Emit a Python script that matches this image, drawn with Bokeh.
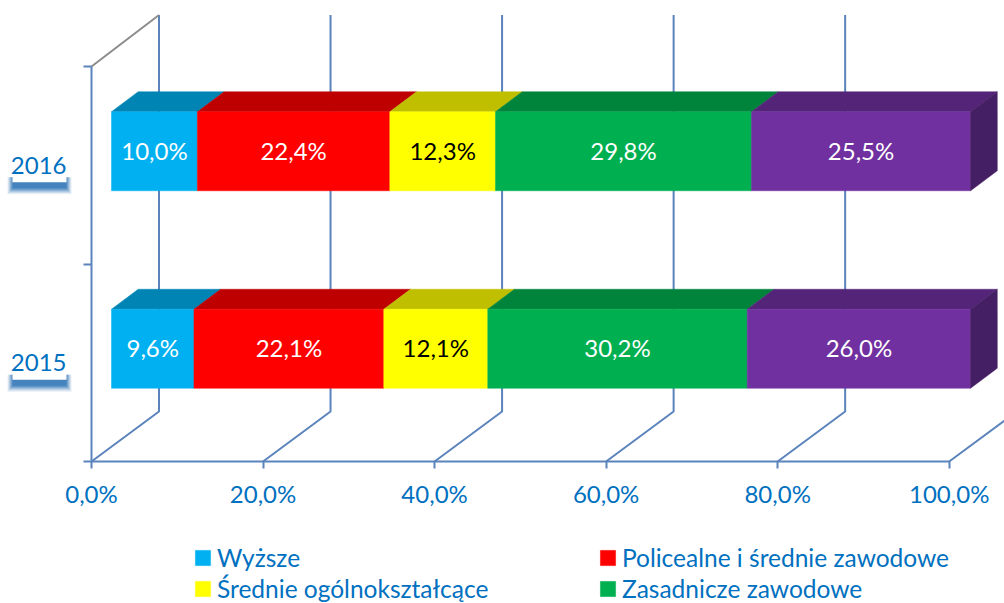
from bokeh.plotting import figure
from bokeh.models import FixedTicker, Legend, LegendItem
from bokeh.core.properties import value
from bokeh.embed import file_html
from bokeh.resources import INLINE

years = ["2015", "2016"]
names = ["Wyższe", "Policealne i średnie zawodowe", "Średnie ogólnokształcące", "Zasadnicze zawodowe", "Podstawowe"]
series = [[9.6, 10.0], [22.1, 22.4], [12.1, 12.3], [30.2, 29.8], [26.0, 25.5]]
labels = [["9,6%", "10,0%"], ["22,1%", "22,4%"], ["12,1%", "12,3%"], ["30,2%", "29,8%"], ["26,0%", "25,5%"]]
front_colors = ["#00B0F0", "#FF0000", "#FFFF00", "#00B050", "#7030A0"]
top_colors = ["#0084B4", "#BF0000", "#BFBF00", "#00843C", "#542478"]
text_colors = ["white", "white", "black", "white", "white"]
x_ticks = [0, 20, 40, 60, 80, 100]
x_tick_labels = ["0,0%", "20,0%", "40,0%", "60,0%", "80,0%", "100,0%"]

FONT = "Lato"
AXIS = "#5B83BC"
TEXT = "#0070C0"
W, H = 1004, 603
ORIGIN_X, ORIGIN_Y = 91.0, 461.0      # pixels of the 0 %, bottom corner
SX, SY = 8.577, 197.5                 # pixels per data unit
ux, uy = 1 / SX, 1 / SY


def fx(px):
    return (px - ORIGIN_X) * ux


def fy(py):
    return (ORIGIN_Y - py) * uy


p = figure(width=W, height=H, output_backend="svg", toolbar_location=None,
           x_range=(fx(0), fx(W)), y_range=(fy(H), fy(0)),
           min_border=0, outline_line_color=None, background_fill_color="white")
p.grid.visible = False

# walls: oblique floor lines and back-wall verticals
wall_dx, wall_dy, top_u = 67.5 * ux, 50 * uy, 2.0
xs = [[t, t + wall_dx, t + wall_dx] for t in x_ticks]
ys = [[0, wall_dy, top_u + 51.5 * uy] for t in x_ticks]
p.multi_line(xs, ys, line_color=AXIS, line_width=2)
p.line([0, wall_dx], [top_u, top_u + 51.5 * uy], line_color="#8C8C8C", line_width=2)

# 3-D stacked bars
bar_k = 1.0016
off_x, off_y = 20 * ux, 14 * uy
half = 39.5 * uy
dep_x, dep_y = 26.7 * ux, 20 * uy
slots = [0.5, 1.5]
starts = [0.0, 0.0]
renderers = []
for name, vals, lab, fc, tc, txt in zip(names, series, labels, front_colors, top_colors, text_colors):
    lefts = [off_x + s * bar_k for s in starts]
    rights = [off_x + (s + v) * bar_k for s, v in zip(starts, vals)]
    tops = [u + off_y + half for u in slots]
    bottoms = [u + off_y - half for u in slots]
    p.patches([[l, r, r + dep_x, l + dep_x] for l, r in zip(lefts, rights)],
              [[t, t, t + dep_y, t + dep_y] for t in tops],
              fill_color=tc, line_color=tc, line_width=0.5)
    r = p.quad(left=lefts, right=rights, top=tops, bottom=bottoms, fill_color=fc, line_color=fc, line_width=0.5)
    renderers.append(r)
    p.text([(l + rr) / 2 for l, rr in zip(lefts, rights)], [u + off_y + 1 * uy for u in slots], text=lab,
           text_font=value(FONT), text_font_size="24px", text_color=txt,
           text_align="center", text_baseline="middle")
    starts = [s + v for s, v in zip(starts, vals)]

# right side of the last segment
ends = [off_x + s * bar_k for s in starts]
p.patches([[e, e + dep_x, e + dep_x, e] for e in ends],
          [[u + off_y + half, u + off_y + half + dep_y, u + off_y - half + dep_y, u + off_y - half] for u in slots],
          fill_color="#451F63", line_color="#451F63", line_width=0.5)

# shadowed label boxes of the categories
for grow, alpha in [(5, 0.12), (4, 0.16), (3, 0.22), (2, 0.30), (1, 0.40), (0, 0.55)]:
    p.quad(left=[fx(12 - grow)] * 2, right=[fx(66 + grow)] * 2,
           top=[u - 12 * uy for u in slots], bottom=[u - (23 + grow * 1.2) * uy for u in slots],
           fill_color="#2E75B6", fill_alpha=alpha, line_color=None)
p.quad(left=[fx(12)] * 2, right=[fx(66)] * 2,
       top=[u + 13 * uy for u in slots], bottom=[u - 17 * uy for u in slots],
       fill_color="white", line_color=None)

# axes
xa = p.xaxis[0]
xa.fixed_location = 0
xa.bounds = (0, 100)
xa.ticker = FixedTicker(ticks=x_ticks)
xa.major_label_overrides = dict(zip(x_ticks, x_tick_labels))
xa.major_tick_in, xa.major_tick_out = 0, 7
xa.minor_tick_in, xa.minor_tick_out = 0, 0
xa.major_label_standoff = 10
ya = p.yaxis[0]
ya.fixed_location = 0
ya.bounds = (0, 2)
ya.ticker = FixedTicker(ticks=slots, minor_ticks=[0, 1, 2])
ya.major_label_overrides = dict(zip(slots, years))
ya.major_tick_in, ya.major_tick_out = 0, 0
ya.minor_tick_in, ya.minor_tick_out = 0, 8
ya.major_label_standoff = 17
ya.major_label_orientation = "horizontal"
for a in (xa, ya):
    a.axis_line_color = AXIS
    a.axis_line_width = 2
    a.major_tick_line_color = AXIS
    a.major_tick_line_width = 2
    a.minor_tick_line_color = AXIS
    a.minor_tick_line_width = 2
    a.major_label_text_font = FONT
    a.major_label_text_font_size = "24px"
    a.major_label_text_color = TEXT


def make_legend(idx, x):
    leg = Legend(items=[LegendItem(label=value(names[i]), renderers=[renderers[i]]) for i in idx],
                 location=(x, 0), orientation="vertical", border_line_color=None,
                 background_fill_alpha=0, padding=0, margin=0, spacing=2,
                 glyph_width=19, glyph_height=19, label_standoff=5, label_height=25,
                 label_text_font=FONT, label_text_font_size="24.5px", label_text_color=TEXT)
    p.add_layout(leg, "center")


make_legend([0, 2], 193)
make_legend([1, 3], 598)

open("out.html", "w").write(file_html(p, INLINE))
